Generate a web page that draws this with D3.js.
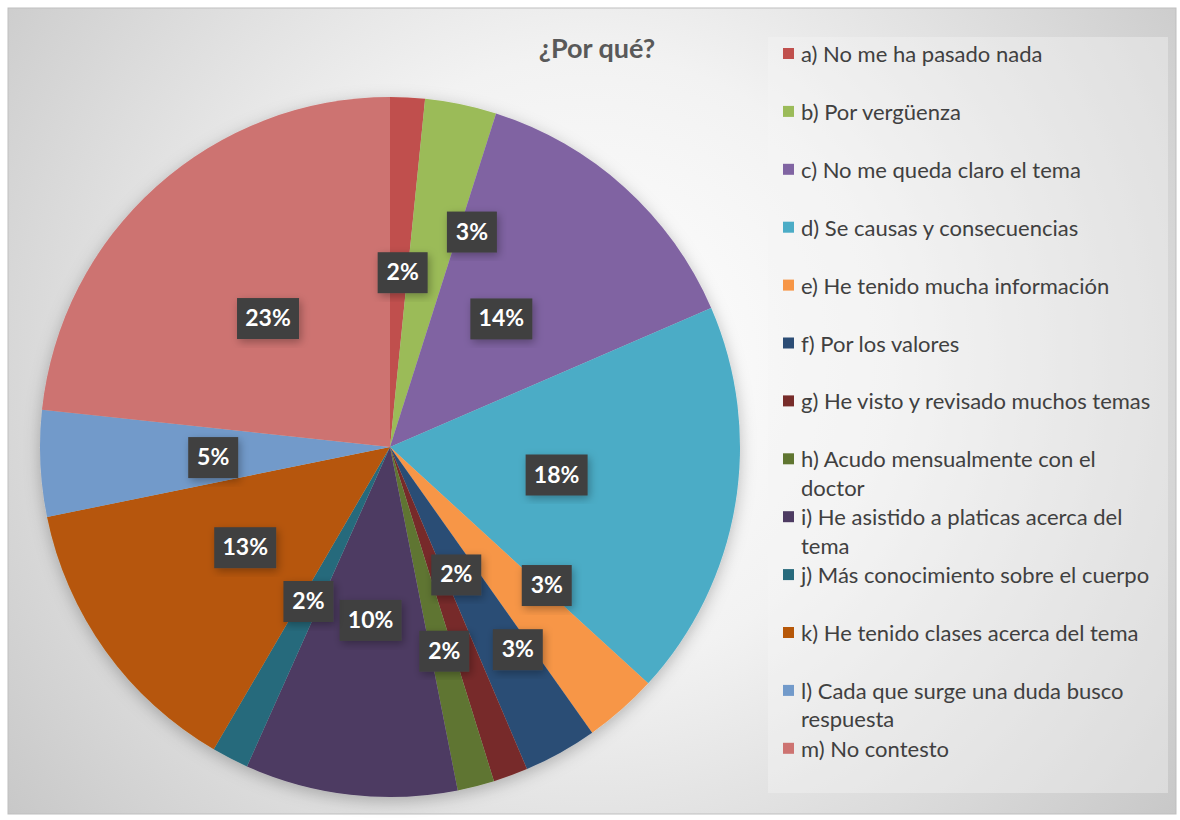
<!DOCTYPE html>
<html>
<head>
<meta charset="utf-8">
<script src="https://cdn.jsdelivr.net/npm/d3@7"></script>
<style>
  body { margin: 0; background: #ffffff; }
  text { font-family: Lato, "Open Sans", sans-serif; }
</style>
</head>
<body>
<svg id="chart" width="1180" height="820"></svg>
<script>
// data (share of answers, %)
let categories = [
    "a) No me ha pasado nada",
    "b) Por vergüenza",
    "c) No me queda claro el tema",
    "d) Se causas y consecuencias",
    "e) He tenido mucha información",
    "f) Por los valores",
    "g) He visto y revisado muchos temas",
    "h) Acudo mensualmente con el doctor",
    "i) He asistido a platicas acerca del tema",
    "j) Más conocimiento sobre el cuerpo",
    "k) He tenido clases acerca del tema",
    "l) Cada que surge una duda busco respuesta",
    "m) No contesto"
];
let values = [1.6, 3.3, 13.6, 18.3, 3.4, 3.4, 1.6, 1.7, 9.8, 1.7, 13.4, 4.9, 23.3];
let colors = ["#C0504D", "#9BBB59", "#8064A2", "#4BACC6", "#F79646", "#2C4D75",
    "#772C2A", "#5F7530", "#4D3B62", "#276A7C", "#B65708", "#729ACA", "#CD7371"];
// legend lines as wrapped in the original
let legendLines = [
    ["a) No me ha pasado nada"],
    ["b) Por vergüenza"],
    ["c) No me queda claro el tema"],
    ["d) Se causas y consecuencias"],
    ["e) He tenido mucha información"],
    ["f) Por los valores"],
    ["g) He visto y revisado muchos temas"],
    ["h) Acudo mensualmente con el", "doctor"],
    ["i) He asistido a platicas acerca del", "tema"],
    ["j) Más conocimiento sobre el cuerpo"],
    ["k) He tenido clases acerca del tema"],
    ["l) Cada que surge una duda busco", "respuesta"],
    ["m) No contesto"]
];
let title = "¿Por qué?";

// label nudges (px) where the labels were moved off the centroid to avoid overlap
let labelNudge = [[4, -3], [47, -47], [-4, -1], [-3, -1], [43, 9], [44, 52],
    [7, -34], [12, 37], [0, 2], [-3, 1], [-5, 0], [-5, 2], [-7, -1]];

let svg = d3.select("#chart");
let defs = svg.append("defs");

let bg = defs.append("radialGradient")
    .attr("id", "bg")
    .attr("gradientUnits", "userSpaceOnUse")
    .attr("cx", 590).attr("cy", 360).attr("r", 760);
bg.append("stop").attr("offset", "0%").attr("stop-color", "#ffffff");
bg.append("stop").attr("offset", "40%").attr("stop-color", "#f2f2f2");
bg.append("stop").attr("offset", "100%").attr("stop-color", "#c6c6c6");

let shadow = defs.append("filter").attr("id", "shadow")
    .attr("x", "-20%").attr("y", "-20%").attr("width", "140%").attr("height", "140%");
shadow.append("feDropShadow").attr("dx", 2).attr("dy", 3).attr("stdDeviation", 4)
    .attr("flood-color", "#000").attr("flood-opacity", 0.3);

let pieShadow = defs.append("filter").attr("id", "pieShadow")
    .attr("x", "-10%").attr("y", "-10%").attr("width", "120%").attr("height", "120%");
pieShadow.append("feDropShadow").attr("dx", 0).attr("dy", 4).attr("stdDeviation", 8)
    .attr("flood-color", "#000").attr("flood-opacity", 0.25);

// chart area
svg.append("rect")
    .attr("x", 8).attr("y", 8).attr("width", 1168).attr("height", 806)
    .attr("fill", "url(#bg)")
    .attr("stroke", "#bfbfbf").attr("stroke-width", 1);

svg.append("text")
    .attr("x", 597).attr("y", 58)
    .attr("text-anchor", "middle")
    .attr("font-size", 27).attr("font-weight", "bold")
    .attr("fill", "#595959")
    .text(title);

// pie
let cx = 390, cy = 447, radius = 350;
let pie = d3.pie().sort(null).value(function (d) { return d; });
let arcs = pie(values);
let arc = d3.arc().innerRadius(0).outerRadius(radius);
let labelArc = d3.arc().innerRadius(172).outerRadius(172);

let g = svg.append("g").attr("transform", "translate(" + cx + "," + cy + ")");

g.append("g").attr("filter", "url(#pieShadow)")
    .selectAll("path")
    .data(arcs)
    .enter()
    .append("path")
    .attr("d", arc)
    .attr("fill", function (d, i) { return colors[i]; });

let total = d3.sum(values);
let fmt = d3.format(".0%");

let labels = g.selectAll(".lbl")
    .data(arcs)
    .enter()
    .append("g")
    .attr("class", "lbl")
    .attr("transform", function (d, i) {
        let c = labelArc.centroid(d);
        return "translate(" + (c[0] + labelNudge[i][0]) + "," + (c[1] + labelNudge[i][1]) + ")";
    });

labels.each(function (d) {
    let sel = d3.select(this);
    let txt = fmt(d.value / total);
    let w = txt.length === 2 ? 50 : 62;
    sel.append("rect")
        .attr("x", -w / 2).attr("y", -20)
        .attr("width", w).attr("height", 41)
        .attr("fill", "#404040")
        .attr("filter", "url(#shadow)");
    sel.append("text")
        .attr("text-anchor", "middle")
        .attr("y", 8)
        .attr("font-size", 23).attr("font-weight", "bold")
        .attr("fill", "#ffffff")
        .text(txt);
});

// legend
svg.append("rect")
    .attr("x", 768).attr("y", 37).attr("width", 400).attr("height", 756)
    .attr("fill", "#f4f4f4").attr("fill-opacity", 0.4);

let legend = svg.append("g");
let rowStart = 54, rowPitch = 57.9;

legendLines.forEach(function (lines, i) {
    let y = rowStart + i * rowPitch;
    legend.append("rect")
        .attr("x", 783).attr("y", y - 6)
        .attr("width", 11).attr("height", 11)
        .attr("fill", colors[i]);
    lines.forEach(function (line, j) {
        legend.append("text")
            .attr("x", 801)
            .attr("y", y + 8 + j * 28.5)
            .attr("font-size", 22)
            .attr("fill", "#404040")
            .text(line);
    });
});
</script>
</body>
</html>
